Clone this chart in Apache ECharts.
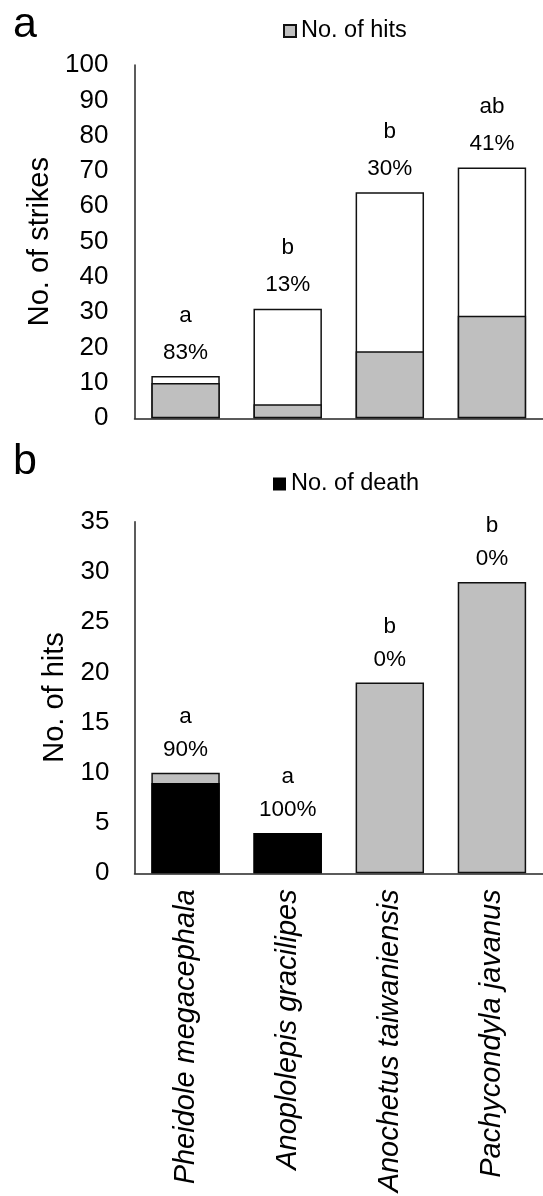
<!DOCTYPE html>
<html>
<head>
<meta charset="utf-8">
<script src="https://cdn.jsdelivr.net/npm/echarts@6/dist/echarts.min.js"></script>
<style>
html,body{margin:0;padding:0;background:#fff;}
#chart{width:543px;height:1196px;}
</style>
</head>
<body>
<div id="chart"></div>
<script>
// ---- data ----
const categories = ['Pheidole megacephala', 'Anoplolepis gracilipes', 'Anochetus taiwaniensis', 'Pachycondyla javanus'];
const strikes = [12, 31, 64, 71];
const hits = [10, 4, 19, 29];
const deaths = [9, 4, 0, 0];
const lettersA = ['a', 'b', 'b', 'ab'];
const pctA = ['83%', '13%', '30%', '41%'];
const lettersB = ['a', 'a', 'b', 'b'];
const pctB = ['90%', '100%', '0%', '0%'];
const yA = { min: 0, max: 100, interval: 10 };
const yB = { min: 0, max: 35, interval: 5 };

const FONT = '"Liberation Sans", Arial, sans-serif';
const GRAY = '#bfbfbf';
const AXIS = '#262626';

const chart = echarts.init(document.getElementById('chart'), null, { renderer: 'canvas' });

function valueAxis(gi, cfg, name, gap, margin) {
  return {
    type: 'value', gridIndex: gi, min: cfg.min, max: cfg.max, interval: cfg.interval,
    name: name, nameLocation: 'middle', nameGap: gap,
    nameTextStyle: { fontFamily: FONT, fontSize: 29, color: '#000' },
    axisLine: { show: true, lineStyle: { color: AXIS, width: 1.5 } },
    axisTick: { show: false },
    splitLine: { show: false },
    axisLabel: { fontFamily: FONT, fontSize: 26, color: '#000', margin: margin }
  };
}

const option = {
  backgroundColor: '#fff',
  animation: false,
  title: [
    { text: 'a', left: 13, top: 4, padding: 0, textStyle: { fontFamily: FONT, fontSize: 43, fontWeight: 'normal', color: '#000' } },
    { text: 'b', left: 13, top: 441, padding: 0, textStyle: { fontFamily: FONT, fontSize: 43, fontWeight: 'normal', color: '#000' } }
  ],
  legend: [
    { data: ['No. of hits'], left: 283, top: 19, padding: 0, itemWidth: 12, itemHeight: 12, icon: 'rect',
      textStyle: { fontFamily: FONT, fontSize: 23.5, color: '#000' } },
    { data: ['No. of death'], left: 273, top: 472, padding: 0, itemWidth: 13, itemHeight: 13, icon: 'rect',
      textStyle: { fontFamily: FONT, fontSize: 23.5, color: '#000' } }
  ],
  grid: [
    { left: 134.5, top: 65, width: 416, height: 353.3, containLabel: false },
    { left: 134.5, top: 521.7, width: 416, height: 351.6, containLabel: false }
  ],
  xAxis: [
    { type: 'category', gridIndex: 0, data: categories,
      axisLine: { lineStyle: { color: AXIS, width: 1.5 } }, axisTick: { show: false }, axisLabel: { show: false } },
    { type: 'category', gridIndex: 1, data: categories,
      axisLine: { lineStyle: { color: AXIS, width: 1.5 } }, axisTick: { show: false },
      axisLabel: { interval: 0, rotate: 90, margin: 16, fontFamily: FONT, fontSize: 29, fontStyle: 'italic', color: '#000' } }
  ],
  yAxis: [
    valueAxis(0, yA, 'No. of strikes', 78, 26),
    valueAxis(1, yB, 'No. of hits', 61.5, 25)
  ],
  series: [
    { name: 'No. of strikes', type: 'bar', xAxisIndex: 0, yAxisIndex: 0, data: strikes,
      barCategoryGap: '33%', barGap: '-100%',
      itemStyle: { color: '#fff', borderColor: '#111', borderWidth: 1.5 },
      label: { show: true, position: 'top', distance: 5, fontFamily: FONT, fontSize: 22.5, lineHeight: 37, color: '#000',
        formatter: p => lettersA[p.dataIndex] + '\n' + pctA[p.dataIndex] } },
    { name: 'No. of hits', type: 'bar', xAxisIndex: 0, yAxisIndex: 0, data: hits,
      barCategoryGap: '33%', barGap: '-100%',
      itemStyle: { color: GRAY, borderColor: '#111', borderWidth: 1.5 } },
    { name: 'Hits', type: 'bar', xAxisIndex: 1, yAxisIndex: 1, data: hits,
      barCategoryGap: '33%', barGap: '-100%',
      itemStyle: { color: GRAY, borderColor: '#111', borderWidth: 1.5 },
      label: { show: true, position: 'top', distance: 6.5, fontFamily: FONT, fontSize: 22.5, lineHeight: 33, color: '#000',
        formatter: p => lettersB[p.dataIndex] + '\n' + pctB[p.dataIndex] } },
    { name: 'No. of death', type: 'bar', xAxisIndex: 1, yAxisIndex: 1, data: deaths,
      barCategoryGap: '33%', barGap: '-100%',
      itemStyle: { color: '#000', borderColor: '#000', borderWidth: 0 } }
  ]
};
chart.setOption(option);
</script>
</body>
</html>
